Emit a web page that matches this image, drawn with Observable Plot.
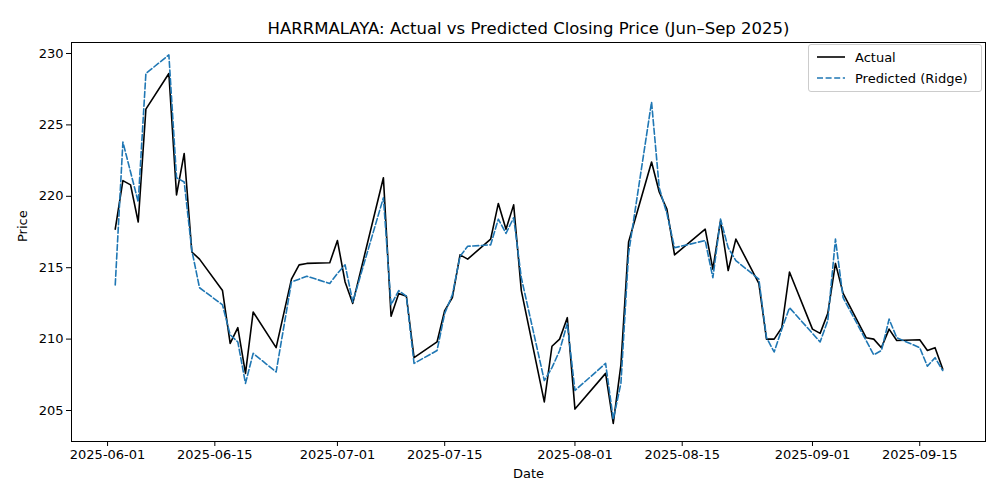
<!DOCTYPE html>
<html><head><meta charset="utf-8">
<script src="https://cdn.jsdelivr.net/npm/d3@7"></script>
<script src="https://cdn.jsdelivr.net/npm/@observablehq/plot@0.6"></script>
<style>
body{margin:0;background:#fff;font-family:"DejaVu Sans",sans-serif;}
#wrap{position:relative;width:1000px;height:500px;}
#legend{position:absolute;left:808px;top:44px;width:172px;height:46px;border:1px solid #ccc;border-radius:3px;background:#fff;font-size:13px;color:#000;}
.row{position:absolute;left:8px;height:18px;display:flex;align-items:center;}
.row svg{margin-right:10px;}
</style></head>
<body><div id="wrap"><div id="legend">
<div class="row" style="top:3px"><svg width="28" height="4"><line x1="0" x2="28" y1="2" y2="2" stroke="#000" stroke-width="1.6"/></svg>Actual</div>
<div class="row" style="top:24px"><svg width="28" height="4"><line x1="0" x2="28" y1="2" y2="2" stroke="#1f77b4" stroke-width="1.6" stroke-dasharray="6,2.6"/></svg>Predicted (Ridge)</div>
</div></div>
<script>
const dates = [
"2025-06-02","2025-06-03","2025-06-04","2025-06-05","2025-06-06","2025-06-09","2025-06-10","2025-06-11","2025-06-12","2025-06-13","2025-06-16","2025-06-17","2025-06-18","2025-06-19","2025-06-20","2025-06-23","2025-06-25","2025-06-26","2025-06-27","2025-06-30",
"2025-07-01","2025-07-02","2025-07-03","2025-07-07","2025-07-08","2025-07-09","2025-07-10","2025-07-11","2025-07-14","2025-07-15","2025-07-16","2025-07-17","2025-07-18","2025-07-21","2025-07-22","2025-07-23","2025-07-24","2025-07-25","2025-07-28","2025-07-29","2025-07-30","2025-07-31",
"2025-08-01","2025-08-05","2025-08-06","2025-08-07","2025-08-08","2025-08-11","2025-08-12","2025-08-13","2025-08-14","2025-08-18","2025-08-19","2025-08-20","2025-08-21","2025-08-22","2025-08-25","2025-08-26","2025-08-27","2025-08-28","2025-08-29",
"2025-09-01","2025-09-02","2025-09-03","2025-09-04","2025-09-05","2025-09-08","2025-09-09","2025-09-10","2025-09-11","2025-09-12","2025-09-15","2025-09-16","2025-09-17","2025-09-18"];
const actual = [
217.7,221.1,220.8,218.2,226.1,228.6,220.1,223.0,216.1,215.6,213.4,209.7,210.8,207.6,211.9,209.4,214.2,215.2,215.3,215.35,
216.9,214.0,212.5,221.3,211.6,213.2,213.0,208.7,209.8,212.0,212.9,215.9,215.6,217.0,219.5,217.7,219.4,213.4,205.6,209.5,210.0,211.5,
205.1,207.6,204.1,208.2,216.8,222.4,220.3,219.1,215.9,217.7,214.9,218.3,214.8,217.0,213.9,210.0,210.0,210.8,214.7,
210.7,210.4,211.8,215.3,213.2,210.1,210.0,209.4,210.7,209.9,209.95,209.2,209.4,207.9];
const predicted = [
213.8,223.8,221.7,219.6,228.6,229.9,221.3,221.0,216.2,213.6,212.4,210.3,209.8,206.9,209.0,207.7,214.0,214.2,214.4,213.9,
214.6,215.2,212.6,219.9,212.4,213.4,213.0,208.3,209.2,211.8,213.1,215.8,216.5,216.6,218.4,217.4,218.5,214.3,207.1,208.0,209.2,211.1,
206.4,208.3,204.4,206.9,216.0,226.6,220.6,218.8,216.4,216.9,214.3,218.4,216.4,215.5,214.2,210.1,209.1,210.7,212.2,
210.4,209.8,211.3,217.0,212.9,209.9,208.9,209.2,211.4,210.1,209.4,208.1,208.7,207.8];
const xTicks = ["2025-06-01","2025-06-15","2025-07-01","2025-07-15","2025-08-01","2025-08-15","2025-09-01","2025-09-15"];
const yTicks = [205,210,215,220,225,230];
const title = "HARRMALAYA: Actual vs Predicted Closing Price (Jun–Sep 2025)";

const P = d => new Date(d + "T00:00:00Z");
const rowsA = dates.map((d,i)=>({date:P(d), v:actual[i]}));
const rowsP = dates.map((d,i)=>({date:P(d), v:predicted[i]}));
const fmt = d3.utcFormat("%Y-%m-%d");

const chart = Plot.plot({
  width:1000, height:500,
  marginLeft:71, marginRight:15, marginTop:42, marginBottom:59,
  style:{fontFamily:"DejaVu Sans", fontSize:"13px", color:"#000", background:"#fff"},
  x:{type:"utc", domain:[P("2025-05-27T07:00").getTime ? new Date(Date.UTC(2025,4,27,7)) : 0, new Date(Date.UTC(2025,8,23,14))]},
  y:{domain:[202.83,230.77]},
  marks:[
    Plot.frame({stroke:"#000", strokeWidth:1}),
    Plot.axisX(xTicks.map(P), {tickFormat:fmt, tickSize:5, tickPadding:3, label:null, fontSize:13}),
    Plot.axisY(yTicks, {tickSize:5, tickPadding:3, label:null, fontSize:13}),
    Plot.line(rowsA, {x:"date", y:"v", stroke:"#000", strokeWidth:1.6}),
    Plot.line(rowsP, {x:"date", y:"v", stroke:"#1f77b4", strokeWidth:1.6, strokeDasharray:"6,2.6"}),
    Plot.text([title], {frameAnchor:"top", dy:-20, fontSize:16.5, text:d=>d}),
    Plot.text(["Date"], {frameAnchor:"bottom", dy:36, fontSize:13, text:d=>d}),
    Plot.text(["Price"], {frameAnchor:"left", dx:-49, rotate:-90, fontSize:13, text:d=>d})
  ]
});
document.getElementById("wrap").prepend(chart);
</script></body></html>
